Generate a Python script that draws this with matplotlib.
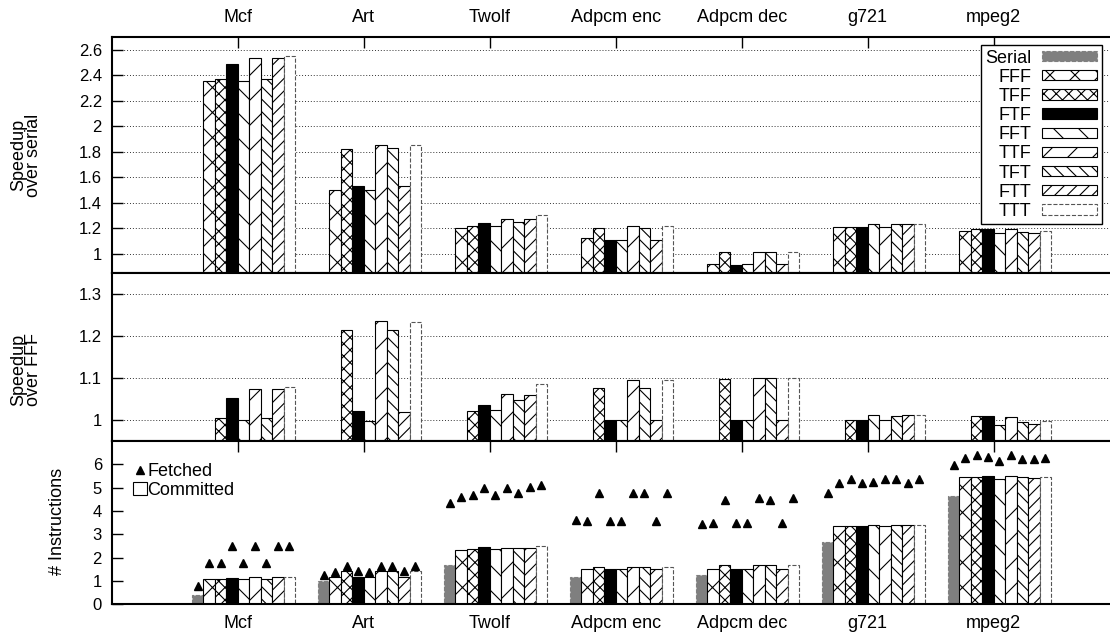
import matplotlib
matplotlib.use("Agg")
import matplotlib.pyplot as plt
from matplotlib.patches import Patch
from matplotlib.lines import Line2D
from matplotlib.backend_bases import GraphicsContextBase

plt.rcParams['font.family'] = ['Liberation Sans', 'DejaVu Sans']
plt.rcParams['hatch.linewidth'] = 0.8

# gnuplot patterns are a bit tighter than matplotlib's default hatch spacing
_hatch_path = GraphicsContextBase.get_hatch_path


def _tight_hatch_path(self, density=8.0):
    return _hatch_path(self, density)


GraphicsContextBase.get_hatch_path = _tight_hatch_path

benchmarks = ["Mcf", "Art", "Twolf", "Adpcm enc", "Adpcm dec", "g721", "mpeg2"]
configs = ["Serial", "FFF", "TFF", "FTF", "FFT", "TTF", "TFT", "FTT", "TTT"]

# speedup over serial, configs FFF..TTT, one row per benchmark
speedup_serial = [
    [2.36, 2.37, 2.49, 2.36, 2.535, 2.37, 2.535, 2.55],
    [1.50, 1.82, 1.53, 1.50, 1.85, 1.83, 1.53, 1.85],
    [1.20, 1.22, 1.24, 1.22, 1.27, 1.25, 1.27, 1.30],
    [1.12, 1.20, 1.11, 1.11, 1.22, 1.20, 1.11, 1.22],
    [0.92, 1.01, 0.91, 0.92, 1.01, 1.01, 0.92, 1.01],
    [1.21, 1.21, 1.21, 1.23, 1.21, 1.23, 1.23, 1.23],
    [1.18, 1.19, 1.19, 1.16, 1.19, 1.17, 1.165, 1.18],
]

# speedup over FFF, configs TFF..TTT
speedup_fff = [
    [1.005, 1.053, 1.000, 1.073, 1.005, 1.073, 1.079],
    [1.214, 1.021, 0.998, 1.236, 1.214, 1.019, 1.234],
    [1.022, 1.035, 1.024, 1.061, 1.048, 1.060, 1.086],
    [1.076, 1.000, 1.000, 1.094, 1.076, 1.000, 1.094],
    [1.098, 1.000, 1.000, 1.100, 1.099, 1.000, 1.099],
    [1.000, 1.000, 1.012, 1.000, 1.010, 1.012, 1.012],
    [1.009, 1.009, 0.987, 1.006, 0.996, 0.990, 0.998],
]

# instructions, all configs Serial..TTT
committed = [
    [0.40, 1.07, 1.07, 1.14, 1.07, 1.17, 1.07, 1.17, 1.17],
    [0.98, 1.17, 1.41, 1.17, 1.17, 1.41, 1.41, 1.17, 1.41],
    [1.67, 2.31, 2.36, 2.45, 2.36, 2.42, 2.42, 2.42, 2.51],
    [1.17, 1.51, 1.61, 1.51, 1.51, 1.62, 1.60, 1.51, 1.62],
    [1.25, 1.51, 1.67, 1.51, 1.51, 1.67, 1.67, 1.51, 1.67],
    [2.68, 3.35, 3.35, 3.35, 3.38, 3.35, 3.38, 3.38, 3.38],
    [4.63, 5.47, 5.47, 5.52, 5.39, 5.52, 5.47, 5.43, 5.47],
]
fetched = [
    [0.80, 1.78, 1.78, 2.49, 1.78, 2.49, 1.78, 2.49, 2.49],
    [1.27, 1.40, 1.65, 1.42, 1.40, 1.66, 1.65, 1.42, 1.66],
    [4.33, 4.59, 4.67, 4.99, 4.70, 4.99, 4.76, 5.03, 5.13],
    [3.63, 3.56, 4.75, 3.56, 3.56, 4.75, 4.75, 3.56, 4.75],
    [3.45, 3.48, 4.47, 3.48, 3.48, 4.56, 4.47, 3.48, 4.56],
    [4.79, 5.22, 5.39, 5.22, 5.25, 5.39, 5.39, 5.22, 5.37],
    [5.96, 6.29, 6.40, 6.33, 6.16, 6.39, 6.24, 6.21, 6.25],
]

# bar look per config
styles = {
    "Serial": dict(facecolor="#7f7f7f", edgecolor="#7f7f7f", hatch=None, linestyle="--"),
    "FFF": dict(facecolor="white", edgecolor="black", hatch="x", linestyle="-"),
    "TFF": dict(facecolor="white", edgecolor="black", hatch="xx", linestyle="-"),
    "FTF": dict(facecolor="black", edgecolor="black", hatch=None, linestyle="-"),
    "FFT": dict(facecolor="white", edgecolor="black", hatch="\\", linestyle="-"),
    "TTF": dict(facecolor="white", edgecolor="black", hatch="/", linestyle="-"),
    "TFT": dict(facecolor="white", edgecolor="black", hatch="\\\\", linestyle="-"),
    "FTT": dict(facecolor="white", edgecolor="black", hatch="//", linestyle="-"),
    "TTT": dict(facecolor="white", edgecolor="#555555", hatch=None, linestyle="--"),
}

n_slots = 11
width = 1.0 / n_slots


def bar_x(i, j):
    return i + (j - 3.5) / n_slots


fig = plt.figure(figsize=(11.1, 6.34), dpi=100)
W, H = 1110.0, 634.0
x0 = 111.7 / W
wid = 8 * 126.0 / W


def make_ax(top_px, bot_px):
    return fig.add_axes([x0, 1 - bot_px / H, wid, (bot_px - top_px) / H])


ax1 = make_ax(37.3, 272.7)
ax2 = make_ax(272.7, 441.0)
ax3 = make_ax(441.0, 604.3)

for i, b in enumerate(benchmarks):
    for j, c in enumerate(configs[1:], start=1):
        ax1.bar(bar_x(i, j), speedup_serial[i][j - 1], width, linewidth=0.8, zorder=2, **styles[c])
    for j, c in enumerate(configs[2:], start=2):
        ax2.bar(bar_x(i, j), speedup_fff[i][j - 2], width, linewidth=0.8, zorder=2, **styles[c])
    for j, c in enumerate(configs):
        ax3.bar(bar_x(i, j), committed[i][j], width, linewidth=0.8, zorder=2, **styles[c])
        ax3.plot(bar_x(i, j), fetched[i][j], marker="^", color="black", markersize=5.5,
                 linestyle="none", zorder=3)

ax1.set_ylim(0.85, 2.70)
ax1.set_yticks([1, 1.2, 1.4, 1.6, 1.8, 2, 2.2, 2.4, 2.6])
ax1.set_yticklabels(["1", "1.2", "1.4", "1.6", "1.8", "2", "2.2", "2.4", "2.6"])
ax2.set_ylim(0.95, 1.35)
ax2.set_yticks([1, 1.1, 1.2, 1.3])
ax2.set_yticklabels(["1", "1.1", "1.2", "1.3"])
ax3.set_ylim(0, 7)
ax3.set_yticks(range(7))

for ax in (ax1, ax2, ax3):
    ax.set_xlim(-1, 7)
    ax.set_xticks(range(len(benchmarks)))
    ax.tick_params(axis="y", direction="in", length=8, width=1, labelsize=12, pad=7,
                   left=True, right=False)
    for s in ax.spines.values():
        s.set_linewidth(1.5)
    ax.set_axisbelow(True)

for ax in (ax1, ax2):
    ax.grid(axis="y", linestyle=(0, (1, 2)), linewidth=0.7, color="#333333")

ax1.tick_params(axis="x", direction="in", length=8, width=1, top=True, bottom=False,
                labeltop=True, labelbottom=False, labelsize=13, pad=8)
ax1.set_xticklabels(benchmarks)
ax2.tick_params(axis="x", top=False, bottom=False, labeltop=False, labelbottom=False)
ax3.tick_params(axis="x", direction="in", length=8, width=1, top=True, bottom=False,
                labeltop=False, labelbottom=True, labelsize=13, pad=8)
ax3.set_xticklabels(benchmarks)

fig.text(26 / W, 1 - 155 / H, "Speedup\nover serial", rotation=90, ha="center", va="center",
         fontsize=13, linespacing=0.85)
fig.text(26 / W, 1 - 370 / H, "Speedup\nover FFF", rotation=90, ha="center", va="center",
         fontsize=13, linespacing=0.85)
fig.text(57 / W, 1 - 521 / H, "# Instructions", rotation=90, ha="center", va="center",
         fontsize=13)

handles = [Patch(linewidth=0.8, **styles[c]) for c in configs]
leg = ax1.legend(handles, configs, loc="upper right", bbox_to_anchor=(1102 / W, 1 - 45 / H),
                 bbox_transform=fig.transFigure, markerfirst=False, fontsize=13,
                 handlelength=3.05, handleheight=0.5, handletextpad=0.6, labelspacing=0.12,
                 borderpad=0.25, borderaxespad=0, fancybox=False, framealpha=1)
leg.get_frame().set_edgecolor("black")
leg.get_frame().set_linewidth(1.0)

h2 = [Line2D([], [], marker="^", color="black", linestyle="none", markersize=5.5),
      Patch(facecolor="white", edgecolor="black", linewidth=0.8)]
leg2 = ax3.legend(h2, ["Fetched", "Committed"], loc="upper left",
                  bbox_to_anchor=(133 / W, 1 - 463 / H), bbox_transform=fig.transFigure,
                  frameon=False, fontsize=13, handlelength=0.75, handleheight=0.75,
                  handletextpad=0.05, labelspacing=0.12, borderpad=0, borderaxespad=0)

fig.savefig("out.png", dpi=100)
